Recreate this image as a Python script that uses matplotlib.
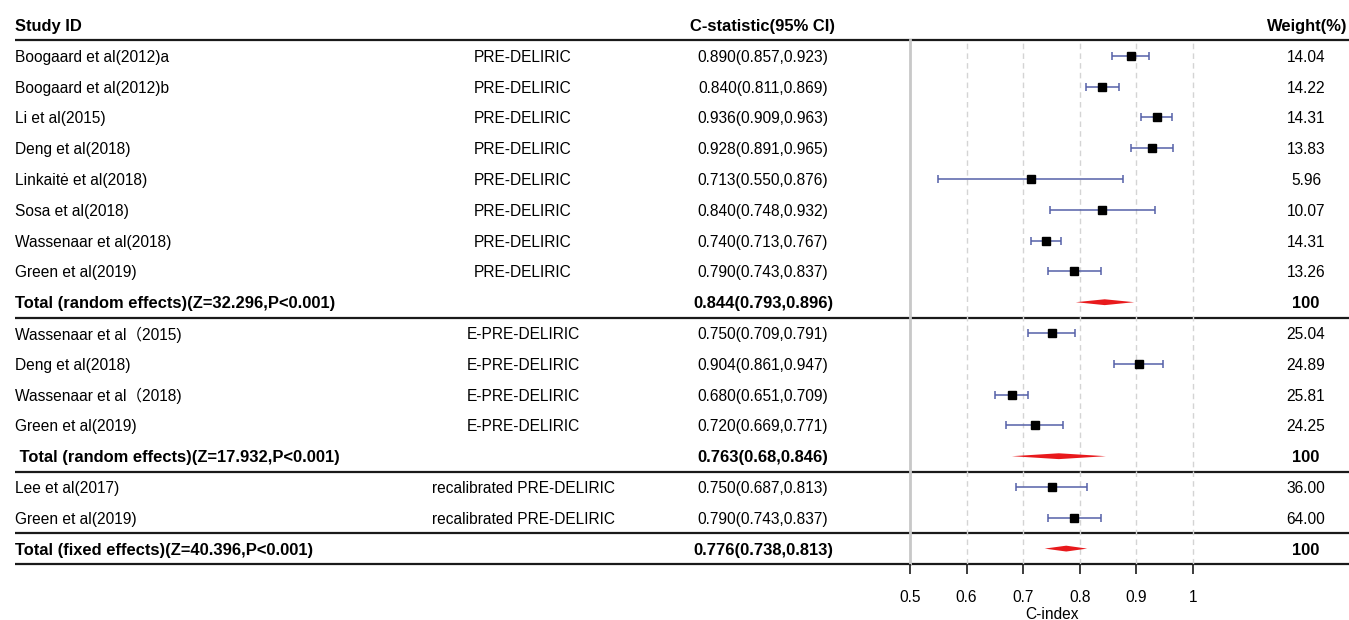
import numpy as np
import matplotlib as mpl
mpl.use('Agg')
import matplotlib.pyplot as plt

plt.rcParams['font.family'] = ['Liberation Sans', 'Noto Sans CJK SC', 'DejaVu Sans']

# rows of the table, top to bottom
study = ["Boogaard et al(2012)a", "Boogaard et al(2012)b", "Li et al(2015)", "Deng et al(2018)",
         "Linkaitė et al(2018)", "Sosa et al(2018)", "Wassenaar et al(2018)", "Green et al(2019)",
         "Total (random effects)(Z=32.296,P<0.001)",
         "Wassenaar et al（2015)", "Deng et al(2018)", "Wassenaar et al（2018)", "Green et al(2019)",
         " Total (random effects)(Z=17.932,P<0.001)",
         "Lee et al(2017)", "Green et al(2019)",
         "Total (fixed effects)(Z=40.396,P<0.001)"]
model = ["PRE-DELIRIC"] * 8 + [""] + ["E-PRE-DELIRIC"] * 4 + [""] + ["recalibrated PRE-DELIRIC"] * 2 + [""]
est = [0.890, 0.840, 0.936, 0.928, 0.713, 0.840, 0.740, 0.790, 0.844,
       0.750, 0.904, 0.680, 0.720, 0.763,
       0.750, 0.790, 0.776]
lo = [0.857, 0.811, 0.909, 0.891, 0.550, 0.748, 0.713, 0.743, 0.793,
      0.709, 0.861, 0.651, 0.669, 0.680,
      0.687, 0.743, 0.738]
hi = [0.923, 0.869, 0.963, 0.965, 0.876, 0.932, 0.767, 0.837, 0.896,
      0.791, 0.947, 0.709, 0.771, 0.846,
      0.813, 0.837, 0.813]
ci_text = ["0.890(0.857,0.923)", "0.840(0.811,0.869)", "0.936(0.909,0.963)", "0.928(0.891,0.965)",
           "0.713(0.550,0.876)", "0.840(0.748,0.932)", "0.740(0.713,0.767)", "0.790(0.743,0.837)",
           "0.844(0.793,0.896)",
           "0.750(0.709,0.791)", "0.904(0.861,0.947)", "0.680(0.651,0.709)", "0.720(0.669,0.771)",
           "0.763(0.68,0.846)",
           "0.750(0.687,0.813)", "0.790(0.743,0.837)", "0.776(0.738,0.813)"]
weight = ["14.04", "14.22", "14.31", "13.83", "5.96", "10.07", "14.31", "13.26", "100",
          "25.04", "24.89", "25.81", "24.25", "100",
          "36.00", "64.00", "100"]
is_total = [False] * 8 + [True] + [False] * 4 + [True] + [False] * 2 + [True]
sep_after = [0, 9, 14, 16, 17]   # horizontal rules after these rows (0 = header)

W, H = 1349, 620
row_px = 30.8
top_px = 25
fs = 11.2
fsb = 11.9

fig = plt.figure(figsize=(W / 100, H / 100), dpi=100)

# background axes: x in pixels, y in rows
bg = fig.add_axes([0, 0, 1, 1])
bg.set_xlim(0, W)
bg.set_ylim((H - top_px) / row_px, -top_px / row_px)
bg.axis('off')

n = len(study)
rows = np.arange(1, n + 1)
va = 'center_baseline'

bg.text(15, 0, "Study ID", ha='left', va=va, fontsize=fsb, fontweight='bold')
bg.text(763, 0, "C-statistic(95% CI)", ha='center', va=va, fontsize=fsb, fontweight='bold')
bg.text(1347, 0, "Weight(%)", ha='right', va=va, fontsize=fsb, fontweight='bold')

for r, s, m, c, w, t in zip(rows, study, model, ci_text, weight, is_total):
    f = fsb if t else fs
    fw = 'bold' if t else 'normal'
    bg.text(15, r, s, ha='left', va=va, fontsize=f, fontweight=fw)
    bg.text(523, r, m, ha='center', va=va, fontsize=fs)
    bg.text(763, r, c, ha='center', va=va, fontsize=f, fontweight=fw)
    bg.text(1306, r, w, ha='center', va=va, fontsize=f, fontweight=fw)

for k in sep_after:
    bg.hlines(k + 0.5, 15, W, color='#1a1a1a', lw=1.6, zorder=5)

# forest axes, same row scale
y0 = 0.5
y1 = n + 0.5
bottom = 1 - (top_px + row_px * y1) / H
height = row_px * (y1 - y0) / H
ax = fig.add_axes([910 / W, bottom, 283 / W, height])
ax.set_xlim(0.5, 1.0)
ax.set_ylim(y1, y0)
ax.patch.set_alpha(0)
for sp in ['top', 'right', 'left', 'bottom']:
    ax.spines[sp].set_visible(False)
ax.set_yticks([])

ax.axvline(0.5, color='#c8c8c8', lw=2, zorder=0, clip_on=False)
for xv in [0.6, 0.7, 0.8, 0.9, 1.0]:
    ax.axvline(xv, color='#d4d4d4', lw=1, ls=(0, (4, 3)), zorder=0, clip_on=False)

est_a = np.array(est)
lo_a = np.array(lo)
hi_a = np.array(hi)
tot = np.array(is_total)

ax.errorbar(est_a[~tot], rows[~tot], xerr=[est_a[~tot] - lo_a[~tot], hi_a[~tot] - est_a[~tot]],
            fmt='none', ecolor='#5560a8', elinewidth=1.1, capsize=3.2, capthick=1.1, zorder=2)
ax.plot(est_a[~tot], rows[~tot], 's', color='black', markersize=6.2, zorder=3)

dh = 0.095
for r, e, l, h in zip(rows[tot], est_a[tot], lo_a[tot], hi_a[tot]):
    ax.fill([l, e, h, e], [r, r - dh, r, r + dh], color='#e8191c', lw=0, zorder=3)

ax.set_xticks([0.5, 0.6, 0.7, 0.8, 0.9, 1.0])
ax.set_xticklabels(["0.5", "0.6", "0.7", "0.8", "0.9", "1"], fontsize=fs)
ax.tick_params(axis='x', direction='out', length=7, width=1.2, color='#1a1a1a', pad=12)
ax.set_xlabel("C-index", fontsize=fs, labelpad=1)

fig.savefig("out.png", dpi=100)
